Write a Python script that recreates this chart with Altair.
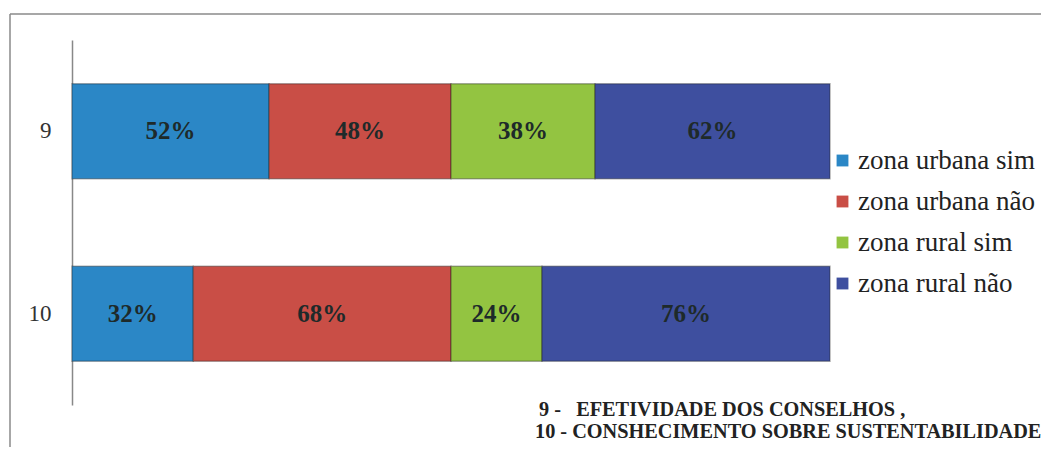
import altair as alt
import pandas as pd

questions = ["9", "10"]
series = ["zona urbana sim", "zona urbana não", "zona rural sim", "zona rural não"]
values_9 = [52, 48, 38, 62]
values_10 = [32, 68, 24, 76]
colors = ["#2b87c6", "#c94e46", "#93c441", "#3e4f9f"]
note_lines = ["9 -\u00a0\u00a0\u00a0EFETIVIDADE DOS CONSELHOS ,", "10 - CONSHECIMENTO SOBRE SUSTENTABILIDADE"]

rows = []
for q, vals in zip(questions, [values_9, values_10]):
    for i, (s, v) in enumerate(zip(series, vals)):
        rows.append({"q": q, "serie": s, "value": v, "order": i, "label": f"{v}%"})
df = pd.DataFrame(rows)

FONT = "Liberation Serif"

base = alt.Chart(df).transform_stack(
    stack="value", groupby=["q"], as_=["x0", "x1"], sort=[alt.SortField("order")]
).transform_calculate(mid="(datum.x0 + datum.x1) / 2")

yscale = alt.Scale(paddingInner=0.48, paddingOuter=0.24)
yenc = alt.Y("q:N", sort=questions, title=None, scale=yscale,
             axis=alt.Axis(ticks=False, grid=False, domainColor="#888888", domainWidth=1.5,
                           labelFont=FONT, labelFontSize=23, labelColor="#333333",
                           labelPadding=21))
xscale = alt.Scale(domain=[0, 200], nice=False, zero=True)

bars = base.mark_bar(stroke="#202020", strokeOpacity=0.35, strokeWidth=1.5).encode(
    x=alt.X("x0:Q", scale=xscale, axis=None),
    x2="x1:Q",
    y=yenc,
    color=alt.Color("serie:N", sort=series,
                    scale=alt.Scale(domain=series, range=colors),
                    legend=alt.Legend(title=None, orient="none", legendX=757, legendY=107,
                                      symbolType="square", symbolSize=140, symbolStrokeWidth=0,
                                      labelFont=FONT, labelFontSize=27, labelColor="#222222",
                                      labelLimit=400,
                                      rowPadding=13, labelOffset=2, symbolOpacity=1)),
)

texts = base.mark_text(font=FONT, fontSize=25, fontWeight="bold", color="#1e2a2a").encode(
    x=alt.X("mid:Q", scale=xscale),
    y=alt.Y("q:N", sort=questions, title=None),
    text="label:N",
)

frame_df = pd.DataFrame({"k": [0]})
note1 = alt.Chart(pd.DataFrame({"line": [note_lines[0]]})).mark_text(
    font=FONT, fontSize=20.3, fontWeight="bold", align="left", color="#222222"
).encode(x=alt.value(467), y=alt.value(370), text="line:N")
note2 = alt.Chart(pd.DataFrame({"line": [note_lines[1]]})).mark_text(
    font=FONT, fontSize=20.3, fontWeight="bold", align="left", color="#222222"
).encode(x=alt.value(463), y=alt.value(392), text="line:N")

frame_left = alt.Chart(frame_df).mark_rule(color="#8a8a8a", strokeWidth=1.5).encode(
    x=alt.value(-62), y=alt.value(-26), y2=alt.value(420))
frame_top = alt.Chart(frame_df).mark_rule(color="#8a8a8a", strokeWidth=1.5).encode(
    x=alt.value(-62), x2=alt.value(980), y=alt.value(-26))

chart = alt.layer(frame_left, frame_top, bars, texts, note1, note2).properties(
    width=758, height=365,
    autosize=alt.AutoSizeParams(type="none"),
    padding={"left": 64, "top": 32, "right": 211, "bottom": 42},
    background="white",
).configure_view(stroke=None).configure_legend(labelFont=FONT, labelFontSize=27, labelLimit=400)

chart.save("out.html", embed_options={"renderer": "svg", "actions": False})
